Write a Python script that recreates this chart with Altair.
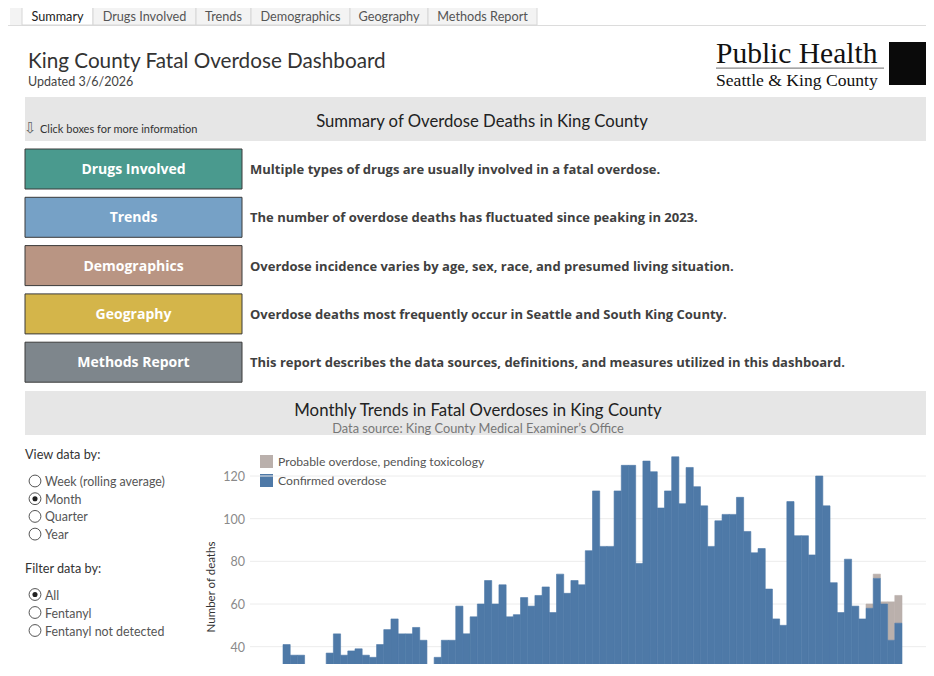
import altair as alt
import pandas as pd

# ---------------- data ----------------
months = pd.date_range("2019-01-01", periods=86, freq="MS").strftime("%b %Y").tolist()
confirmed = [41, 36, 36, 29, 29, 24, 37, 46, 36, 38, 39, 36, 35, 41, 48, 53, 46, 46, 49, 43,
             25, 35, 43, 43, 59, 46, 54, 60, 71, 60, 69, 54, 55, 63, 59, 64, 68, 56, 74, 65,
             71, 69, 85, 113, 87, 87, 113, 125, 125, 79, 127, 122, 105,
             113, 129, 107, 124, 115, 106, 87, 99, 102, 102, 110, 94, 84, 86, 67, 53, 50,
             108, 92, 92, 83, 120, 106, 70, 56, 81, 59, 53, 58, 72, 60, 43, 51]
pending = [0] * 81 + [2, 2, 1, 18, 13]
series = ["Probable overdose, pending toxicology", "Confirmed overdose"]
y_ticks = [40, 60, 80, 100, 120]

tabs = ["Summary", "Drugs Involved", "Trends", "Demographics", "Geography", "Methods Report"]
boxes = ["Drugs Involved", "Trends", "Demographics", "Geography", "Methods Report"]
descriptions = [
    "Multiple types of drugs are usually involved in a fatal overdose.",
    "The number of overdose deaths has fluctuated since peaking in 2023.",
    "Overdose incidence varies by age, sex, race, and presumed living situation.",
    "Overdose deaths most frequently occur in Seattle and South King County.",
    "This report describes the data sources, definitions, and measures utilized in this dashboard.",
]
view_options = ["Week (rolling average)", "Month", "Quarter", "Year"]
view_selected = "Month"
filter_options = ["All", "Fentanyl", "Fentanyl not detected"]
filter_selected = "All"

# ---------------- layout / style ----------------
W, H = 918, 656
FONT = "Lato"
BOLDFONT = "Open Sans"
BLUE, GRAY = "#4e79a7", "#bab0ac"
box_colors = ["#4a9a8e", "#76a1c6", "#b99583", "#d4b54a", "#7e868c"]
tab_edges = [22, 93, 196, 251, 350, 428, 537]
RIGHT = 926  # page x of the canvas right edge


def P(v):  # page pixel -> canvas pixel
    return v - 8


def X(f):
    return alt.X(f, type="quantitative", scale=None, axis=None)


def Y(f):
    return alt.Y(f, type="quantitative", scale=None, axis=None)


def txt(text, x, y, size=12, color="#333", weight="normal", align="left", font=FONT, angle=0,
        baseline="middle"):
    d = pd.DataFrame({"t": [text]})
    m = alt.Chart(d).mark_text(align=align, baseline=baseline, fontSize=size, color=color,
                               fontWeight=weight, font=font, angle=angle)
    return m.encode(x=alt.value(P(x)), y=alt.value(P(y)), text="t:N")


def rect(x0, x1, y0, y1, fill, stroke=None, sw=1):
    d = pd.DataFrame({"k": [1]})
    kw = dict(fill=fill)
    if stroke:
        kw.update(stroke=stroke, strokeWidth=sw)
    return alt.Chart(d).mark_rect(**kw).encode(
        x=alt.value(P(x0)), x2=alt.value(P(x1)), y=alt.value(P(y0)), y2=alt.value(P(y1)))


layers = []

# tab bar
tab_df = pd.DataFrame({"label": tabs, "x0": [P(v) for v in tab_edges[:-1]],
                       "x1": [P(v) for v in tab_edges[1:]],
                       "sel": [1] + [0] * (len(tabs) - 1)})
tab_df["xc"] = (tab_df["x0"] + tab_df["x1"]) / 2
layers.append(rect(8, RIGHT, 25, 26, "#dcdcdc"))
layers.append(rect(10, 22, 7, 25, "#f3f3f3"))
layers.append(alt.Chart(tab_df).mark_rect(stroke="#d6d6d6", strokeWidth=1).encode(
    x=X("x0"), x2=alt.X2("x1"), y=alt.value(P(7)), y2=alt.value(P(25)),
    fill=alt.condition(alt.datum.sel == 1, alt.value("#ffffff"), alt.value("#f3f3f3"))))
layers.append(alt.Chart(tab_df).mark_text(baseline="middle", fontSize=12.7, font=FONT).encode(
    x=X("xc"), y=alt.value(P(17)), text="label:N",
    color=alt.condition(alt.datum.sel == 1, alt.value("#222222"), alt.value("#555555"))))

# titles
layers.append(txt("King County Fatal Overdose Dashboard", 28, 61.5, size=20.7, color="#333333"))
layers.append(txt("Updated 3/6/2026", 28, 82, size=12.5, color="#444444"))

# logo
layers.append(txt("Public Health", 716, 63, size=29.5, color="#111111", font="Liberation Serif",
                  baseline="alphabetic"))
layers.append(rect(716, 884, 67.5, 68.7, "#888888"))
layers.append(txt("Seattle & King County", 716, 85.5, size=17.6, color="#111111", font="Liberation Serif",
                  baseline="alphabetic"))
layers.append(rect(889, RIGHT, 42, 85, "#0a0a0a"))

# summary band
layers.append(rect(25, RIGHT, 97, 141, "#e6e6e6"))
layers.append(txt("Summary of Overdose Deaths in King County", 482, 121.5, size=16.7, color="#222222", align="center"))
layers.append(txt("\u21e9", 24, 128, size=15, color="#666666", font="DejaVu Sans"))
layers.append(txt("Click boxes for more information", 40, 130, size=11, color="#333333"))

# navigation boxes
box_df = pd.DataFrame({"label": boxes, "desc": descriptions, "i": list(range(len(boxes)))})
box_base = alt.Chart(box_df).transform_calculate(
    y0=f"{P(149)} + datum.i * 48.3", y1=f"{P(189)} + datum.i * 48.3",
    yc=f"{P(170)} + datum.i * 48.3")
layers.append(box_base.mark_rect(stroke="#3a3a3a", strokeWidth=1).encode(
    x=alt.value(P(25)), x2=alt.value(P(242)), y=Y("y0"), y2=alt.Y2("y1"),
    fill=alt.Fill("label:N", scale=alt.Scale(domain=boxes, range=box_colors), legend=None)))
layers.append(box_base.mark_text(baseline="middle", fontSize=14, fontWeight="bold", font=BOLDFONT,
                                 color="#ffffff").encode(
    x=alt.value(P(133.5)), y=Y("yc"), text="label:N"))
layers.append(box_base.mark_text(align="left", baseline="middle", fontSize=13, fontWeight="bold",
                                 font=BOLDFONT, color="#404040").encode(
    x=alt.value(P(250)), y=Y("yc"), text="desc:N"))

# monthly trends band
layers.append(rect(25, RIGHT, 391, 435, "#e6e6e6"))
layers.append(txt("Monthly Trends in Fatal Overdoses in King County", 478, 410.5, size=16.8, color="#222222", align="center"))
layers.append(txt("Data source: King County Medical Examiner\u2019s Office", 478, 429, size=12.8, color="#777777", align="center"))


# controls
def radio_group(options, selected, y_start, step):
    d = pd.DataFrame({"opt": options, "i": list(range(len(options)))})
    d["sel"] = [1 if o == selected else 0 for o in options]
    base = alt.Chart(d).transform_calculate(yy=f"{P(y_start)} + datum.i * {step}")
    circ = base.mark_point(shape="circle", size=140, filled=True, fill="#ffffff",
                           stroke="#555555", strokeWidth=1, opacity=1).encode(
        x=alt.value(P(35)), y=Y("yy"))
    dot = base.transform_filter("datum.sel == 1").mark_point(
        shape="circle", size=26, filled=True, color="#222222", opacity=1).encode(
        x=alt.value(P(35)), y=Y("yy"))
    lab = base.transform_calculate(ty="datum.yy + 1").mark_text(
        align="left", baseline="middle", fontSize=12.4, font=FONT,
        color="#555555").encode(x=alt.value(P(45)), y=Y("ty"), text="opt:N")
    return [circ, dot, lab]


layers.append(txt("View data by:", 25, 455, size=12.7, color="#333333"))
layers += radio_group(view_options, view_selected, 481, 17.7)
layers.append(txt("Filter data by:", 25, 569, size=12.7, color="#333333"))
layers += radio_group(filter_options, filter_selected, 594.5, 18)

# legend
leg_df = pd.DataFrame({"s": series, "i": [0, 1]})
leg_base = alt.Chart(leg_df).transform_calculate(
    y0=f"{P(455)} + datum.i * 19", y1=f"{P(468)} + datum.i * 19", yc=f"{P(462)} + datum.i * 19")
layers.append(leg_base.mark_rect().encode(
    x=alt.value(P(260)), x2=alt.value(P(273)), y=Y("y0"), y2=alt.Y2("y1"),
    fill=alt.Fill("s:N", scale=alt.Scale(domain=series, range=[GRAY, BLUE]), legend=None)))
layers.append(leg_base.mark_text(align="left", baseline="middle", fontSize=12.2, font=FONT,
                                 color="#555555").encode(x=alt.value(P(278)), y=Y("yc"), text="s:N"))

# y axis title
layers.append(txt("Number of deaths", 212, 587, size=11.5, color="#333333", align="center", angle=270))

# ---------------- bar chart (scaled) ----------------
bars_df = pd.DataFrame({"month": months, "i": list(range(len(months))),
                        "confirmed": confirmed, "pending": pending})
bars_df["i1"] = bars_df["i"] + 1
bars_df["total"] = bars_df["confirmed"] + bars_df["pending"]
tick_df = pd.DataFrame({"v": y_ticks})

xs = alt.Scale(domain=[0, len(months)], range=[P(283), P(902)], nice=False, zero=False)
ys = alt.Scale(domain=[0, 120], range=[P(732), P(476)], nice=False, zero=False)

grid = alt.Chart(tick_df).mark_rule(color="#ececec", strokeWidth=1).encode(
    y=alt.Y("v:Q", scale=ys, axis=None), x=alt.value(P(250)), x2=alt.value(P(RIGHT)))
tick_lab = alt.Chart(tick_df).mark_text(align="right", baseline="middle", fontSize=12.5, font=FONT,
                                        color="#8a8a8a", dy=1).encode(
    y=alt.Y("v:Q", scale=ys, axis=None), x=alt.value(P(245)), text="v:Q")
conf_bars = alt.Chart(bars_df).mark_rect(color=BLUE, stroke=BLUE, strokeWidth=0.6, clip=True).encode(
    x=alt.X("i:Q", scale=xs, axis=None), x2="i1",
    y=alt.Y("confirmed:Q", scale=ys, axis=None), y2=alt.Y2(datum=0),
    tooltip=["month:N", "confirmed:Q", "pending:Q"])
pend_bars = alt.Chart(bars_df).transform_filter("datum.pending > 0").mark_rect(
    color=GRAY, stroke=GRAY, strokeWidth=0.6, clip=True).encode(
    x=alt.X("i:Q", scale=xs, axis=None), x2="i1",
    y=alt.Y("total:Q", scale=ys, axis=None), y2="confirmed:Q")

bar_chart = alt.layer(grid, tick_lab, pend_bars, conf_bars)
layers.append(bar_chart)

chart = alt.layer(*layers).resolve_scale(x="independent", y="independent", fill="independent",
                                         color="independent").properties(
    width=W, height=H, padding=0, autosize="none", background="#ffffff"
).configure_view(stroke=None)

chart.save("out.html", embed_options={"renderer": "svg", "actions": False})
